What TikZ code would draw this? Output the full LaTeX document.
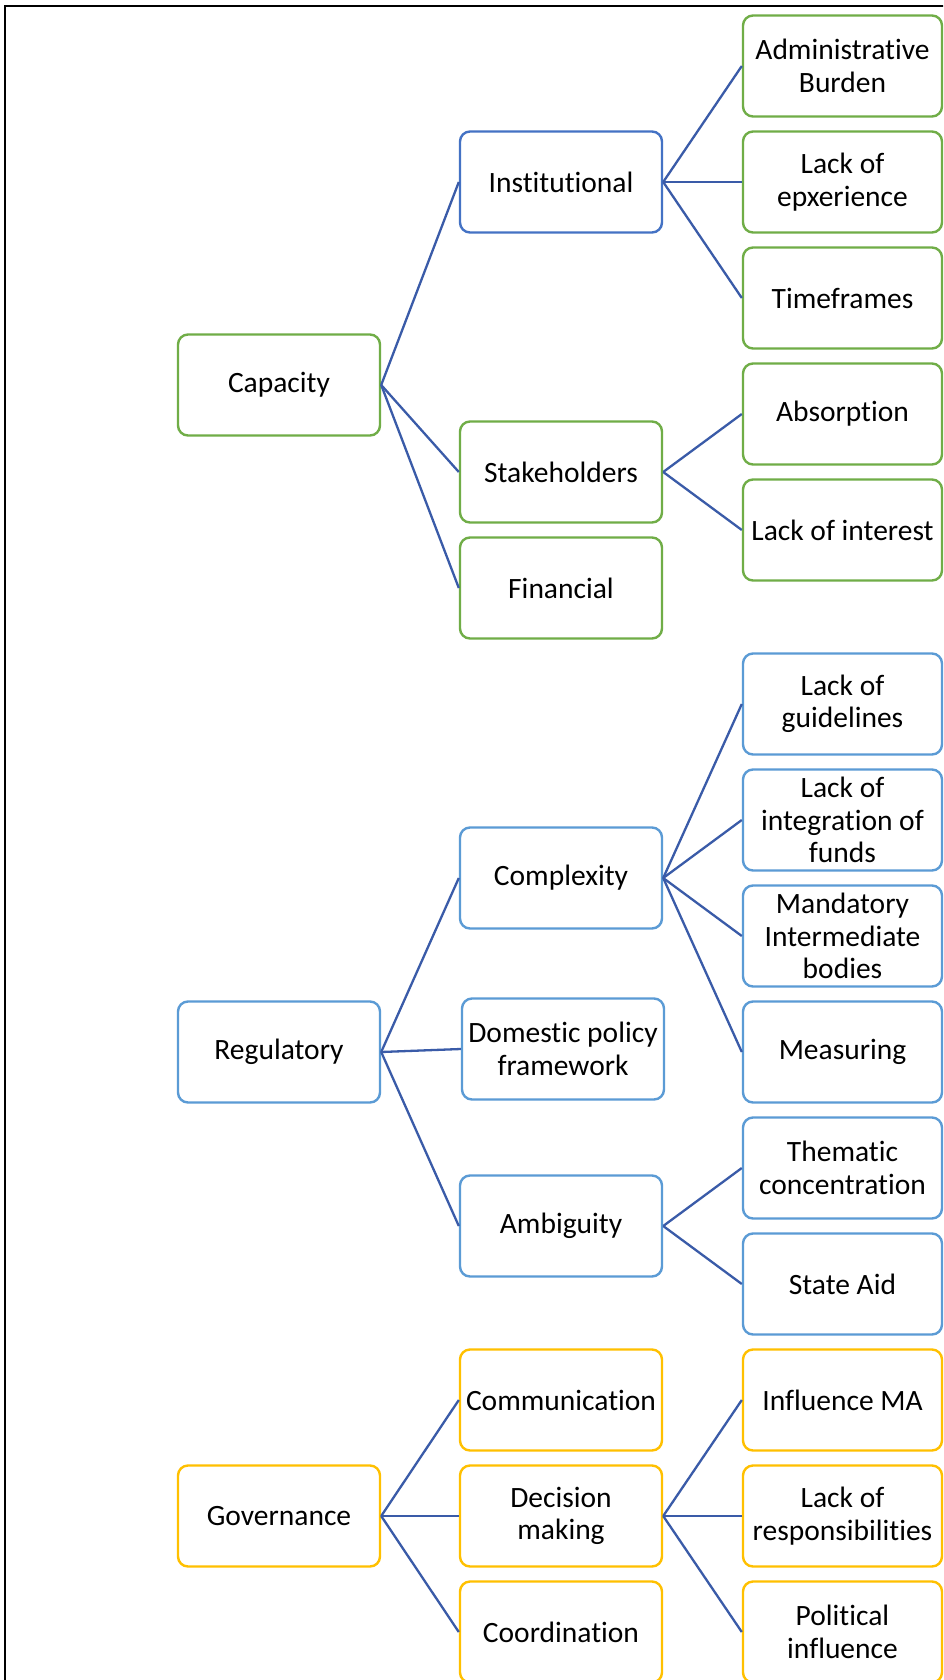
\documentclass[tikz,border=0pt]{standalone}
\usepackage{fontspec}
\setmainfont[Ligatures={NoCommon}]{Carlito}
\definecolor{cgreen}{HTML}{70AD47}
\definecolor{cblue}{HTML}{4472C4}
\definecolor{clblue}{HTML}{5B9BD5}
\definecolor{cyellow}{HTML}{FFC000}
\definecolor{clink}{HTML}{3A5BA8}
\begin{document}
\begin{tikzpicture}[x=1pt,y=-1pt,
  box/.style={draw=#1, line width=2.4pt, rounded corners=10pt,
    minimum width=202pt, minimum height=101pt, align=center, inner sep=2pt,
    font=\fontsize{29.5}{32.5}\selectfont},
  rbox/.style={box=#1, minimum width=199pt},
  conn/.style={draw=clink, line width=2.3pt}]
\useasboundingbox (0,0) rectangle (943,1680);
\clip (0,0) rectangle (943,1680);
\fill[white] (0,0) rectangle (943,1680);
\draw[line width=2.6pt, black] (5,1700) -- (5,6) -- (960,6);

% Capacity
\node[box=cgreen] (cap) at (279,385) {Capacity};
\node[box=cblue] (inst) at (561,182) {Institutional};
\node[box=cgreen] (stk) at (561,472) {Stakeholders};
\node[box=cgreen] (fin) at (561,588) {Financial};
\node[rbox=cgreen] (adm) at (842.5,66) {Administrative\\Burden};
\node[rbox=cgreen] (loe) at (842.5,182) {Lack of\\epxerience};
\node[rbox=cgreen] (tim) at (842.5,298) {Timeframes};
\node[rbox=cgreen] (abs) at (842.5,414) {Absorption};
\node[rbox=cgreen] (loi) at (842.5,530) {Lack of interest};

% Regulatory
\node[box=clblue] (reg) at (279,1052) {Regulatory};
\node[box=clblue] (cpx) at (561,878) {Complexity};
\node[box=clblue] (dom) at (563,1049) {Domestic policy\\framework};
\node[box=clblue] (amb) at (561,1226) {Ambiguity};
\node[rbox=clblue] (log) at (842.5,704) {Lack of\\guidelines};
\node[rbox=clblue] (loif) at (842.5,820) {Lack of\\integration of\\funds};
\node[rbox=clblue] (mib) at (842.5,936) {Mandatory\\Intermediate\\bodies};
\node[rbox=clblue] (mea) at (842.5,1052) {Measuring};
\node[rbox=clblue] (the) at (842.5,1168) {Thematic\\concentration};
\node[rbox=clblue] (sta) at (842.5,1284) {State Aid};

% Governance
\node[box=cyellow] (gov) at (279,1516) {Governance};
\node[box=cyellow] (com) at (561,1400) {Communication};
\node[box=cyellow] (dec) at (561,1516) {Decision\\making};
\node[box=cyellow] (coo) at (561,1632) {Coordination};
\node[rbox=cyellow] (ima) at (842.5,1400) {Influence MA};
\node[rbox=cyellow] (lor) at (842.5,1516) {Lack of\\responsibilities};
\node[rbox=cyellow] (pol) at (842.5,1632) {Political\\influence};

% connectors
\foreach \a/\b in {cap/inst, cap/stk, cap/fin, inst/adm, inst/loe, inst/tim, stk/abs, stk/loi,
  reg/cpx, reg/dom, reg/amb, cpx/log, cpx/loif, cpx/mib, cpx/mea, amb/the, amb/sta,
  gov/com, gov/dec, gov/coo, dec/ima, dec/lor, dec/pol}
  \draw[conn] (\a.east) -- (\b.west);
\end{tikzpicture}
\end{document}
